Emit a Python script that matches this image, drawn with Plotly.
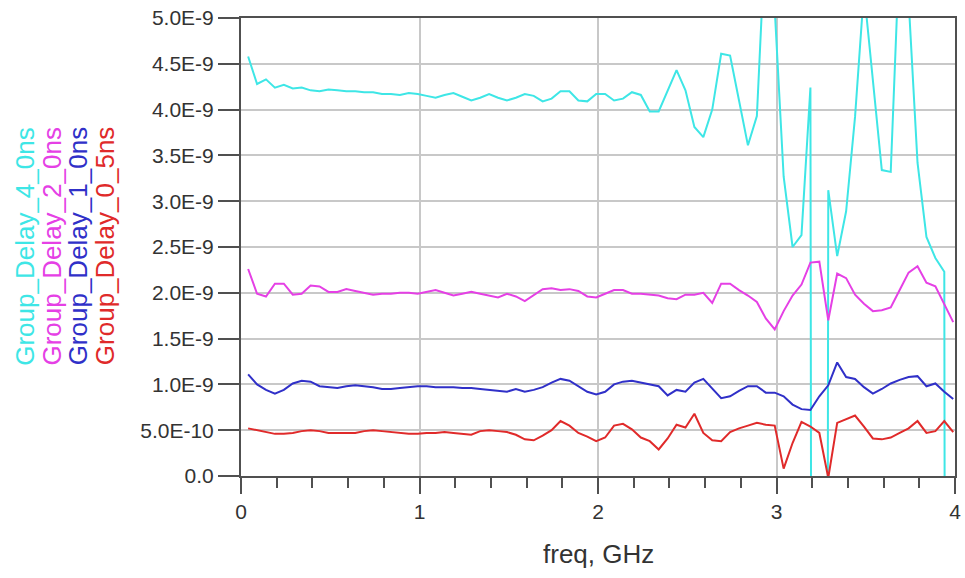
import plotly.graph_objects as go

# frequency sweep (GHz)
freq = [round(0.04 + 0.05 * k, 2) for k in range(80)]

# Group delay values in ns (converted to seconds below)
gd_4_0ns = [4.58, 4.28, 4.33, 4.24, 4.27, 4.23, 4.24, 4.21, 4.20, 4.22,
            4.21, 4.20, 4.20, 4.19, 4.19, 4.17, 4.17, 4.16, 4.18, 4.17,
            4.15, 4.13, 4.16, 4.18, 4.14, 4.10, 4.13, 4.17, 4.13, 4.10,
            4.13, 4.17, 4.15, 4.09, 4.12, 4.20, 4.20, 4.10, 4.09, 4.17,
            4.17, 4.10, 4.12, 4.19, 4.16, 3.98, 3.98, 4.20, 4.43, 4.21,
            3.81, 3.70, 4.00, 4.61, 4.59, 4.10, 3.61, 3.93, 6.00, 5.10,
            3.27, 2.50, 2.63, 4.24, -60.0, 3.12, 2.40, 2.89, 3.92, 5.30,
            4.30, 3.34, 3.32, 5.80, 5.20, 3.42, 2.61, 2.38, 2.23, -60.0]

gd_2_0ns = [2.26, 1.99, 1.96, 2.10, 2.10, 1.98, 1.99, 2.08, 2.07, 2.01,
            2.01, 2.04, 2.02, 2.00, 1.98, 1.99, 1.99, 2.00, 2.00, 1.99,
            2.01, 2.03, 2.00, 1.97, 1.99, 2.01, 1.99, 1.97, 1.95, 1.99,
            1.96, 1.91, 1.98, 2.04, 2.05, 2.03, 2.04, 2.02, 1.96, 1.95,
            1.99, 2.03, 2.03, 1.99, 1.99, 1.98, 1.97, 1.94, 1.93, 1.98,
            1.98, 2.00, 1.89, 2.10, 2.10, 2.03, 1.97, 1.90, 1.72, 1.60,
            1.80, 1.97, 2.09, 2.33, 2.34, 1.70, 2.21, 2.16, 1.98, 1.88,
            1.80, 1.81, 1.84, 2.03, 2.22, 2.29, 2.11, 2.07, 1.87, 1.68]

gd_1_0ns = [1.11, 1.00, 0.94, 0.90, 0.94, 1.01, 1.04, 1.03, 0.98, 0.97,
            0.96, 0.98, 0.99, 0.98, 0.97, 0.95, 0.95, 0.96, 0.97, 0.98,
            0.98, 0.97, 0.97, 0.97, 0.96, 0.96, 0.95, 0.94, 0.93, 0.92,
            0.95, 0.92, 0.94, 0.97, 1.02, 1.06, 1.04, 0.98, 0.92, 0.89,
            0.92, 1.00, 1.03, 1.04, 1.02, 1.00, 0.98, 0.88, 0.94, 0.92,
            1.02, 1.06, 0.96, 0.85, 0.87, 0.93, 0.98, 0.98, 0.91, 0.91,
            0.87, 0.78, 0.73, 0.72, 0.87, 0.99, 1.24, 1.08, 1.06, 0.97,
            0.90, 0.95, 1.01, 1.05, 1.08, 1.09, 0.98, 1.01, 0.92, 0.84]

gd_0_5ns = [0.52, 0.50, 0.48, 0.46, 0.46, 0.47, 0.49, 0.50, 0.49, 0.47,
            0.47, 0.47, 0.47, 0.49, 0.50, 0.49, 0.48, 0.47, 0.46, 0.46,
            0.47, 0.47, 0.48, 0.47, 0.46, 0.45, 0.49, 0.50, 0.49, 0.48,
            0.45, 0.40, 0.39, 0.44, 0.50, 0.60, 0.55, 0.47, 0.43, 0.38,
            0.42, 0.55, 0.57, 0.51, 0.42, 0.38, 0.29, 0.41, 0.56, 0.53,
            0.68, 0.47, 0.39, 0.38, 0.48, 0.52, 0.55, 0.58, 0.56, 0.55,
            0.08, 0.36, 0.59, 0.54, 0.47, -0.02, 0.58, 0.62, 0.66, 0.54,
            0.41, 0.40, 0.42, 0.47, 0.52, 0.60, 0.47, 0.49, 0.60, 0.48]

series_names = ["Group_Delay_4_0ns", "Group_Delay_2_0ns",
                "Group_Delay_1_0ns", "Group_Delay_0_5ns"]
series_colors = ["#3EE6E6", "#E540E5", "#3030C8", "#E02A2A"]
series_values = [gd_4_0ns, gd_2_0ns, gd_1_0ns, gd_0_5ns]

y_tickvals = [i * 0.5e-9 for i in range(11)]
y_ticktext = ["0.0", "5.0E-10", "1.0E-9", "1.5E-9", "2.0E-9", "2.5E-9",
              "3.0E-9", "3.5E-9", "4.0E-9", "4.5E-9", "5.0E-9"]
x_tickvals = [0, 1, 2, 3, 4]

fig = go.Figure()
for name, color, vals in zip(series_names, series_colors, series_values):
    fig.add_trace(go.Scatter(
        x=freq, y=[v * 1e-9 for v in vals], mode="lines", name=name,
        line=dict(color=color, width=2), showlegend=False))

font_family = "Liberation Sans, Arial, sans-serif"

fig.update_layout(
    width=965, height=578,
    margin=dict(l=241, r=4, t=18, b=102),
    paper_bgcolor="white", plot_bgcolor="white",
    font=dict(family=font_family, color="#333333"),
    xaxis=dict(
        range=[0, 4], tickvals=x_tickvals, ticktext=[str(v) for v in x_tickvals],
        showgrid=True, gridcolor="#c8c8c8", gridwidth=1.5,
        showline=True, linecolor="#505050", linewidth=2, mirror=True,
        ticks="outside", ticklen=16, tickwidth=1.5, tickcolor="#505050",
        tickfont=dict(size=21, color="#333333"),
        ticklabeloverflow="allow",
        minor=dict(dtick=0.2, ticks="outside", ticklen=10, tickwidth=1.5,
                   tickcolor="#505050", showgrid=False),
        zeroline=False,
    ),
    yaxis=dict(
        range=[0, 5e-9], tickvals=y_tickvals, ticktext=y_ticktext,
        showgrid=True, gridcolor="#c8c8c8", gridwidth=1.5,
        showline=True, linecolor="#505050", linewidth=2, mirror=True,
        ticks="outside", ticklen=21, tickwidth=1.5, tickcolor="#505050",
        tickfont=dict(size=21, color="#333333"),
        zeroline=False,
    ),
)

fig.add_annotation(
    text="freq, GHz", xref="paper", yref="paper", x=0.5, y=-0.17,
    xanchor="center", yanchor="middle", showarrow=False,
    font=dict(size=26, color="#333333", family=font_family))

legend_x = [23, 50, 77, 104]
for name, color, xp in zip(series_names, series_colors, legend_x):
    fig.add_annotation(
        text=name, xref="paper", yref="paper",
        x=(xp - 241) / 720, y=(476 - 246) / 458,
        xanchor="center", yanchor="middle", textangle=-90, showarrow=False,
        font=dict(size=26, color=color, family=font_family))

fig.write_html("out.html")
